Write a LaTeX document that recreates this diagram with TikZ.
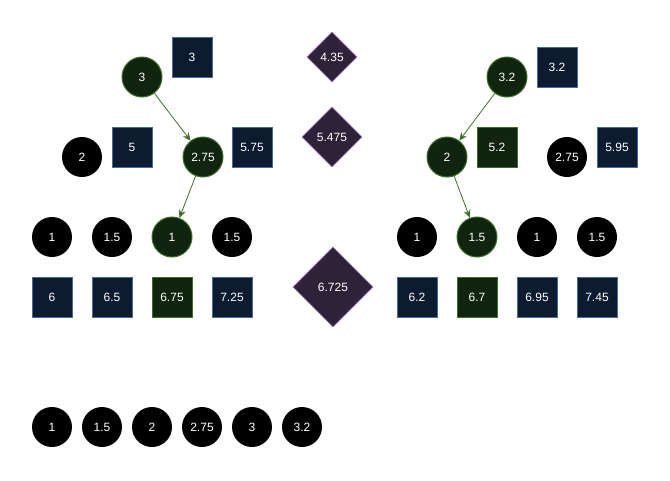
\documentclass[tikz,border=0pt]{standalone}
\usepackage{fontspec}
\setmainfont{Liberation Sans}
\usetikzlibrary{shapes.geometric,arrows.meta}
\definecolor{pathgreen}{HTML}{10240F}
\definecolor{edgegreen}{HTML}{3F6E2A}
\definecolor{boxnavy}{HTML}{0C1B2F}
\definecolor{boxedge}{HTML}{4A6A99}
\definecolor{diamfill}{HTML}{2E2238}
\definecolor{diamedge}{HTML}{9A72B8}
\tikzset{
  every node/.style={text=white, font=\fontsize{12}{14}\selectfont, inner sep=0pt},
  dot/.style={circle, fill=black, minimum size=40pt},
  pathdot/.style={circle, fill=pathgreen, draw=edgegreen, line width=1pt, minimum size=40pt},
  box/.style={rectangle, fill=boxnavy, draw=boxedge, line width=1pt, minimum size=40pt},
  pathbox/.style={rectangle, fill=pathgreen, draw=edgegreen, line width=1pt, minimum size=40pt},
  diam/.style={diamond, aspect=1, fill=diamfill, draw=diamedge, line width=0.6pt},
  walk/.style={draw=edgegreen, line width=0.8pt, -{Stealth[length=8pt,width=7pt]}}
}
\begin{document}
\begin{tikzpicture}[x=1pt, y=-1pt]
\useasboundingbox (0,0) rectangle (670,480);

\node [pathdot] (a3) at (142,77) {3};
\node [box] (ba3) at (192,57) {3};
\node [dot] (a2) at (82,157) {2};
\node [box] (ba2) at (132,147) {5};
\node [pathdot] (a275) at (203,157) {2.75};
\node [box] (ba275) at (252,147) {5.75};
\node [dot] (l1) at (52,237) {1};
\node [dot] (l2) at (112,237) {1.5};
\node [pathdot] (l3) at (172,237) {1};
\node [dot] (l4) at (232,237) {1.5};
\node [box] (bl1) at (52,297) {6};
\node [box] (bl2) at (112,297) {6.5};
\node [pathbox] (bl3) at (172,297) {6.75};
\node [box] (bl4) at (232,297) {7.25};

\node [diam, minimum size=50pt] (d1) at (332,57) {4.35};
\node [diam, minimum size=60pt] (d2) at (332,137) {5.475};
\node [diam, minimum size=80pt] (d3) at (333,287) {6.725};

\node [pathdot] (b32) at (507,77) {3.2};
\node [box] (bb32) at (557,67) {3.2};
\node [pathdot] (b2) at (447,157) {2};
\node [pathbox] (bb2) at (497,147) {5.2};
\node [dot] (b275) at (567,157) {2.75};
\node [box] (bb275) at (617,147) {5.95};
\node [dot] (r1) at (417,237) {1};
\node [pathdot] (r2) at (477,237) {1.5};
\node [dot] (r3) at (537,237) {1};
\node [dot] (r4) at (597,237) {1.5};
\node [box] (br1) at (417,297) {6.2};
\node [pathbox] (br2) at (477,297) {6.7};
\node [box] (br3) at (537,297) {6.95};
\node [box] (br4) at (597,297) {7.45};

\node [dot] (s1) at (52,427) {1};
\node [dot] (s2) at (102,427) {1.5};
\node [dot] (s3) at (152,427) {2};
\node [dot] (s4) at (202,427) {2.75};
\node [dot] (s5) at (252,427) {3};
\node [dot] (s6) at (302,427) {3.2};

\draw [walk] (a3) -- (a275);
\draw [walk] (a275) -- (l3);
\draw [walk] (b32) -- (b2);
\draw [walk] (b2) -- (r2);
\end{tikzpicture}
\end{document}
